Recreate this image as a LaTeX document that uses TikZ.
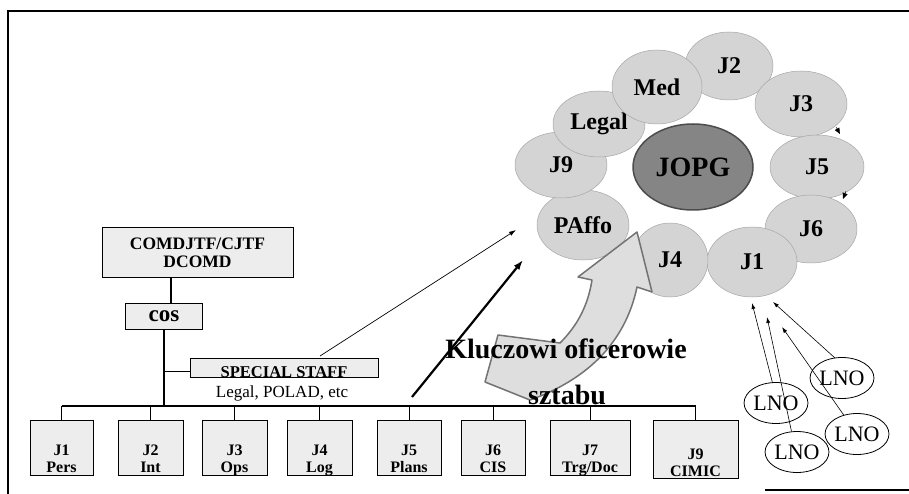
\documentclass[tikz,border=0pt]{standalone}
\usepackage{fontspec}
\setmainfont{Liberation Serif}
\usetikzlibrary{shapes.geometric,arrows.meta}
\begin{document}
\begin{tikzpicture}[x=1pt,y=-1pt,
  every node/.style={inner sep=0pt},
  orgbox/.style={draw=black, line width=1pt, fill=black!7},
  jbox/.style={orgbox, minimum height=55pt},
  jlab/.style={font=\fontsize{16}{16.5}\selectfont\bfseries, align=center, anchor=south, yshift=-2pt},
  conn/.style={line width=1.8pt},
  stem/.style={line width=0.9pt},
  ring/.style={ellipse, fill=black!17, draw=black!35, line width=0.5pt, font=\fontsize{24}{26}\selectfont\bfseries},
  lno/.style={ellipse, draw=black, line width=0.8pt, font=\fontsize{22}{24}\selectfont, minimum width=61pt, minimum height=41pt},
  thinarrow/.style={line width=0.6pt, -{Latex[length=6pt,width=4pt]}},
  ]
\useasboundingbox (0,0) rectangle (909,494);
% frame
\draw[line width=1.2pt] (909,11) -- (8,11) -- (8,494);
\draw[line width=1.5pt] (765,490) -- (909,490);

% org chart
\node[orgbox, minimum width=191pt, minimum height=49pt, font=\fontsize{17.5}{18}\selectfont\bfseries, align=center] (comd) at (197.5,252.5) {COMDJTF/CJTF\\DCOMD};
\node[orgbox, minimum width=77pt, minimum height=26pt, font=\fontsize{23}{24}\selectfont\bfseries] (cos) at (164,316) {cos};
\node[orgbox, minimum width=188pt, minimum height=19pt,
      label={[font=\fontsize{16.5}{17}\selectfont\bfseries, anchor=south]south:{SPECIAL STAFF}}] (ss) at (284,367.5) {};
\node[font=\fontsize{17}{18}\selectfont] (ssl) at (282,393) {Legal, POLAD, etc};

\node[jbox, minimum width=63pt, label={[jlab]south:{J1\\Pers\strut}}] (J1) at (61.5,447.5) {};
\node[jbox, minimum width=65pt, label={[jlab]south:{J2\\Int\strut}}] (J2) at (150.5,447.5) {};
\node[jbox, minimum width=65pt, label={[jlab]south:{J3\\Ops\strut}}] (J3) at (234.5,447.5) {};
\node[jbox, minimum width=65pt, label={[jlab]south:{J4\\Log\strut}}] (J4) at (319.5,447.5) {};
\node[jbox, minimum width=64pt, label={[jlab]south:{J5\\Plans\strut}}] (J5) at (409,447.5) {};
\node[jbox, minimum width=64pt, label={[jlab]south:{J6\\CIS\strut}}] (J6) at (493,447.5) {};
\node[jbox, minimum width=80pt, label={[jlab]south:{J7\\Trg/Doc\strut}}] (J7) at (590,447.5) {};
\node[jbox, minimum width=85pt, minimum height=58pt, label={[jlab, yshift=-1pt]south:{J9\\CIMIC\strut}}] (J9) at (695.5,449) {};

\coordinate (bus) at (164,406);
\coordinate (cosin) at ([xshift=7pt]cos.north);
\coordinate (ssin) at ([yshift=-4pt]ss.west);
\draw[conn] (cosin) -- (cosin |- comd.south);
\draw[conn] (cos.south) -- (bus);
\draw[conn] (ssin) -- (ssin -| bus);
\draw[conn] (J1.north |- bus) -- (J9.north |- bus) -- (J9.north);
\foreach \j in {J1,J2,J3,J4,J5,J6,J7} \draw[stem] (\j.north) -- (\j.north |- bus);

% arrows towards ring
\coordinate (tipA) at (516,230);
\coordinate (tipB) at (523,260);
\coordinate (tailB) at (412,397);
\draw[line width=0.7pt, -{Latex[length=7pt,width=4.5pt]}] ([xshift=36pt,yshift=1.5pt]ss.north) -- (tipA);
\draw[line width=2.2pt, -{Latex[length=10pt,width=7pt]}] (tailB) -- (tipB);

% ring
\node[ring, minimum width=88pt, minimum height=68pt] (rJ2) at (729,66) {J2};
\node[ring, minimum width=92pt, minimum height=66pt] (rJ3) at (801,104) {J3};
\node[ring, minimum width=94pt, minimum height=64pt] (rJ5) at (817,167) {J5};
\node[ring, minimum width=92pt, minimum height=68pt] (rJ6) at (811,229) {J6};
\node[ring, minimum width=90pt, minimum height=70pt] (rJ1) at (752,262) {J1};
\node[ring, minimum width=76pt, minimum height=74pt] (rJ4) at (670,260) {J4};
\node[ring, minimum width=92pt, minimum height=70pt] (rPA) at (583,225) {PAffo};
\node[ring, minimum width=92pt, minimum height=66pt] (rJ9) at (561,165) {J9};
\node[ring, minimum width=92pt, minimum height=66pt] (rLeg) at (599,124) {Legal};
\node[ring, minimum width=90pt, minimum height=74pt] (rMed) at (657,87) {Med};
\node[ellipse, fill=black!48, draw=black!70, line width=1.5pt, minimum width=120pt, minimum height=86pt,
      font=\fontsize{28}{30}\selectfont\bfseries] (jopg) at (693,167) {JOPG};
\draw[line width=0.4pt, -{Triangle[length=6pt,width=5pt]}] (836,127) -- (840,134);
\draw[line width=0.4pt, -{Triangle[length=6pt,width=5pt]}] (846,191) -- (843,199);

% block arrow
\draw[draw=black!55, line width=1.5pt, fill=black!13, line join=round]
  (637,232) -- (652,292) -- (637,287)
  .. controls (628,330) and (600,375) .. (530,400)
  -- (485,382) -- (498,335) -- (560,343)
  .. controls (578,325) and (588,305) .. (592,280)
  -- (578,277) -- cycle;
\node[font=\fontsize{28}{30}\selectfont\bfseries] (kl) at (566,349) {Kluczowi oficerowie};
\node[font=\fontsize{28}{30}\selectfont\bfseries] (sz) at (567,395) {sztabu};

% LNO
\node[lno] (L1) at (776,403) {LNO};
\node[lno] (L2) at (842,378) {LNO};
\node[lno] (L3) at (797,452) {LNO};
\node[lno] (L4) at (857,434) {LNO};
\coordinate (t1) at (752,303);
\coordinate (t2) at (767,317);
\coordinate (t3) at (773,302);
\coordinate (t4) at (782,327);
\draw[thinarrow] (L1.100) -- (t1);
\draw[thinarrow] (L3.105) -- (t2);
\draw[thinarrow] (L2.110) -- (t3);
\draw[thinarrow] (L4.125) -- (t4);
\end{tikzpicture}
\end{document}
